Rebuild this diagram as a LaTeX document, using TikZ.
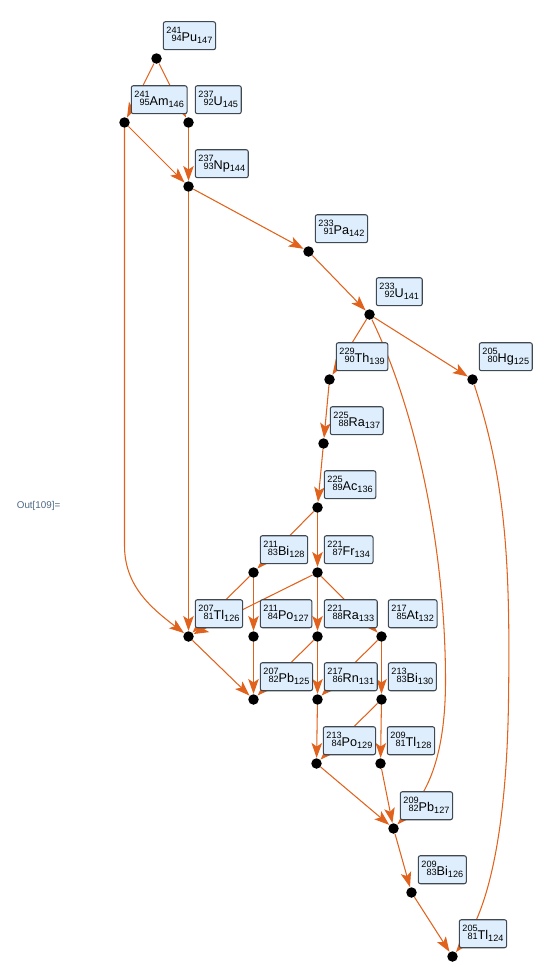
\documentclass[tikz,border=0pt]{standalone}
\usepackage{fontspec}
\setmainfont{Liberation Sans}
\usetikzlibrary{arrows.meta,positioning}
\definecolor{decayorange}{RGB}{224,98,28}
\definecolor{lblfill}{RGB}{222,238,252}
\definecolor{lbldraw}{RGB}{64,72,82}
\definecolor{outgray}{RGB}{78,104,130}
\newcommand\nucsmall{\fontsize{5.2}{2.3}\selectfont}
\newcommand\nuc[4]{{\nucsmall\begin{tabular}[b]{@{}r@{}}#1\\#2\end{tabular}}#3\raisebox{-1.3pt}{\nucsmall #4}}

\begin{document}
\begin{tikzpicture}[x=0.02cm,y=-0.02cm,font=\fontsize{7.2}{8}\selectfont,
    vtx/.style={circle,fill=black,inner sep=0pt,minimum size=0.21cm},
    nuclbl/.style={draw=lbldraw,fill=lblfill,rounded corners=1.2pt,line width=0.6pt,
      inner xsep=1.8pt,inner ysep=0pt,minimum height=0.56cm},
    dk/.style={draw=decayorange,line width=0.6pt,
      -{Stealth[length=8.5pt,width=6pt,inset=2pt]}}]
  \useasboundingbox (-0.5,-0.5) rectangle (559.5,966.5);
  \node[text=outgray,font=\fontsize{5.6}{6}\selectfont,anchor=west,inner sep=0pt] (outlbl) at (16,505) {Out[109]=};

  % vertices
  \node[vtx] (pu241) at (156,58) {};
  \node[vtx] (am241) at (124,122) {};
  \node[vtx] (u237) at (188,122) {};
  \node[vtx] (np237) at (188,186) {};
  \node[vtx] (pa233) at (308,251) {};
  \node[vtx] (u233) at (369,314) {};
  \node[vtx] (th229) at (329,379) {};
  \node[vtx] (hg205) at (472,379) {};
  \node[vtx] (ra225) at (323,443) {};
  \node[vtx] (ac225) at (317,507) {};
  \node[vtx] (bi211) at (253,572) {};
  \node[vtx] (fr221) at (317,572) {};
  \node[vtx] (tl207) at (188,636) {};
  \node[vtx] (po211) at (253,636) {};
  \node[vtx] (ra221) at (317,636) {};
  \node[vtx] (at217) at (381,636) {};
  \node[vtx] (pb207) at (253,699) {};
  \node[vtx] (rn217) at (317,699) {};
  \node[vtx] (bi213) at (381,699) {};
  \node[vtx] (po213) at (316,763) {};
  \node[vtx] (tl209) at (380,763) {};
  \node[vtx] (pb209) at (393,828) {};
  \node[vtx] (bi209) at (411,892) {};
  \node[vtx] (tl205) at (452,956) {};

  % decays
  \draw[dk] (pu241) -- (am241);
  \draw[dk] (pu241) -- (u237);
  \draw[dk] (am241) -- (np237);
  \draw[dk] (u237) -- (np237);
  \draw[dk] (am241) -- (124,545) .. controls (124,585) and (150,607) .. (tl207);
  \draw[dk] (np237) -- (tl207);
  \draw[dk] (np237) -- (pa233);
  \draw[dk] (pa233) -- (u233);
  \draw[dk] (u233) -- (th229);
  \draw[dk] (u233) -- (hg205);
  \draw[dk] (u233) .. controls (420,420) and (445,560) .. (445,680)
    .. controls (445,760) and (425,795) .. (pb209);
  \draw[dk] (th229) -- (ra225);
  \draw[dk] (ra225) -- (ac225);
  \draw[dk] (ac225) -- (bi211);
  \draw[dk] (ac225) -- (fr221);
  \draw[dk] (fr221) -- (tl207);
  \draw[dk] (fr221) -- (ra221);
  \draw[dk] (fr221) -- (at217);
  \draw[dk] (bi211) -- (tl207);
  \draw[dk] (bi211) -- (po211);
  \draw[dk] (tl207) -- (pb207);
  \draw[dk] (po211) -- (pb207);
  \draw[dk] (ra221) -- (pb207);
  \draw[dk] (ra221) -- (rn217);
  \draw[dk] (at217) -- (rn217);
  \draw[dk] (at217) -- (bi213);
  \draw[dk] (rn217) -- (po213);
  \draw[dk] (bi213) -- (po213);
  \draw[dk] (bi213) -- (tl209);
  \draw[dk] (po213) -- (pb209);
  \draw[dk] (tl209) -- (pb209);
  \draw[dk] (pb209) -- (bi209);
  \draw[dk] (bi209) -- (tl205);
  \draw[dk] (hg205) .. controls (505,480) and (510,560) .. (508,700)
    .. controls (506,850) and (482,918) .. (tl205);

  % labels
  \node[nuclbl,above right=0.086cm and 0.046cm of pu241] (pu241t) {\nuc{241}{94}{Pu}{147}};
  \node[nuclbl,above right=0.086cm and 0.046cm of am241] (am241t) {\nuc{241}{95}{Am}{146}};
  \node[nuclbl,above right=0.086cm and 0.046cm of u237] (u237t) {\nuc{237}{92}{U}{145}};
  \node[nuclbl,above right=0.086cm and 0.046cm of np237] (np237t) {\nuc{237}{93}{Np}{144}};
  \node[nuclbl,above right=0.086cm and 0.046cm of pa233] (pa233t) {\nuc{233}{91}{Pa}{142}};
  \node[nuclbl,above right=0.086cm and 0.046cm of u233] (u233t) {\nuc{233}{92}{U}{141}};
  \node[nuclbl,above right=0.086cm and 0.046cm of th229] (th229t) {\nuc{229}{90}{Th}{139}};
  \node[nuclbl,above right=0.086cm and 0.046cm of hg205] (hg205t) {\nuc{205}{80}{Hg}{125}};
  \node[nuclbl,above right=0.086cm and 0.046cm of ra225] (ra225t) {\nuc{225}{88}{Ra}{137}};
  \node[nuclbl,above right=0.086cm and 0.046cm of ac225] (ac225t) {\nuc{225}{89}{Ac}{136}};
  \node[nuclbl,above right=0.086cm and 0.046cm of bi211] (bi211t) {\nuc{211}{83}{Bi}{128}};
  \node[nuclbl,above right=0.086cm and 0.046cm of fr221] (fr221t) {\nuc{221}{87}{Fr}{134}};
  \node[nuclbl,above right=0.086cm and 0.046cm of tl207] (tl207t) {\nuc{207}{81}{Tl}{126}};
  \node[nuclbl,above right=0.086cm and 0.046cm of po211] (po211t) {\nuc{211}{84}{Po}{127}};
  \node[nuclbl,above right=0.086cm and 0.046cm of ra221] (ra221t) {\nuc{221}{88}{Ra}{133}};
  \node[nuclbl,above right=0.086cm and 0.046cm of at217] (at217t) {\nuc{217}{85}{At}{132}};
  \node[nuclbl,above right=0.086cm and 0.046cm of pb207] (pb207t) {\nuc{207}{82}{Pb}{125}};
  \node[nuclbl,above right=0.086cm and 0.046cm of rn217] (rn217t) {\nuc{217}{86}{Rn}{131}};
  \node[nuclbl,above right=0.086cm and 0.046cm of bi213] (bi213t) {\nuc{213}{83}{Bi}{130}};
  \node[nuclbl,above right=0.086cm and 0.046cm of po213] (po213t) {\nuc{213}{84}{Po}{129}};
  \node[nuclbl,above right=0.086cm and 0.046cm of tl209] (tl209t) {\nuc{209}{81}{Tl}{128}};
  \node[nuclbl,above right=0.086cm and 0.046cm of pb209] (pb209t) {\nuc{209}{82}{Pb}{127}};
  \node[nuclbl,above right=0.086cm and 0.046cm of bi209] (bi209t) {\nuc{209}{83}{Bi}{126}};
  \node[nuclbl,above right=0.086cm and 0.046cm of tl205] (tl205t) {\nuc{205}{81}{Tl}{124}};
\end{tikzpicture}
\end{document}
